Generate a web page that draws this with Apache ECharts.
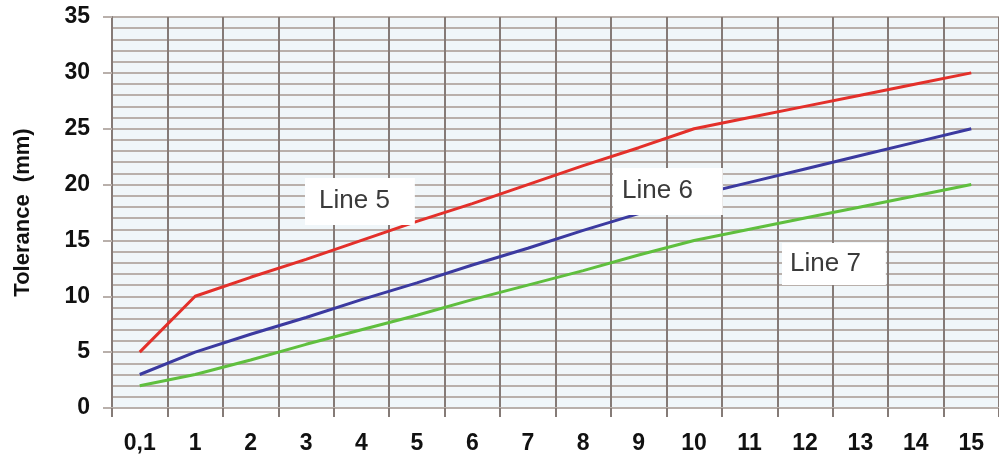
<!DOCTYPE html>
<html>
<head>
<meta charset="utf-8">
<script src="https://cdn.jsdelivr.net/npm/echarts@6/dist/echarts.min.js"></script>
<style>
html,body{margin:0;padding:0;background:#fff;}
#main{width:999px;height:465px;}
</style>
</head>
<body>
<div id="main"></div>
<script>
var categories = ['0,1','1','2','3','4','5','6','7','8','9','10','11','12','13','14','15'];
var line5 = [5, 10, 11.7, 13.3, 15, 16.7, 18.3, 20, 21.7, 23.3, 25, 26, 27, 28, 29, 30];
var line6 = [3, 5, 6.6, 8.1, 9.7, 11.2, 12.8, 14.3, 15.9, 17.4, 19, 20.2, 21.4, 22.6, 23.8, 25];
var line7 = [2, 3, 4.3, 5.7, 7, 8.3, 9.7, 11, 12.3, 13.7, 15, 16, 17, 18, 19, 20];
var seriesNames = ['Line 5', 'Line 6', 'Line 7'];
var yTicks = {min: 0, max: 35, interval: 5};

var chart = echarts.init(document.getElementById('main'), null, {renderer: 'canvas'});
var font = '"Liberation Sans", Arial, sans-serif';
var gridColor = '#b9b0ab';
var vColor = '#857b77';

function lineSeries(name, data, color) {
  return {
    name: name, type: 'line', data: data, symbol: 'none', smooth: false,
    lineStyle: {color: color, width: 3}, z: 3, silent: true
  };
}

function boxLabel(text, left, top, pad) {
  return {type: 'text', left: left, top: top, z: 10,
    style: {text: text, fill: '#3a3a3a', font: '26px ' + font, backgroundColor: '#ffffff', padding: pad}};
}

var option = {
  backgroundColor: '#ffffff',
  animation: false,
  textStyle: {fontFamily: font},
  grid: {
    left: 112, top: 17, bottom: 57, right: -10.6,
    show: true, backgroundColor: '#f0f6f9', borderWidth: 0, containLabel: false
  },
  xAxis: {
    type: 'category', data: categories, boundaryGap: true,
    axisLine: {show: true, lineStyle: {color: gridColor, width: 2}},
    axisTick: {show: true, length: 9, interval: 0, lineStyle: {color: vColor, width: 2}},
    splitLine: {show: true, interval: 0, lineStyle: {color: vColor, width: 2}},
    axisLabel: {
      interval: 0, margin: 24, color: '#111', fontSize: 23, fontWeight: 'bold', fontFamily: font
    }
  },
  yAxis: {
    type: 'value', min: yTicks.min, max: yTicks.max, interval: yTicks.interval,
    name: 'Tolerance  (mm)', nameLocation: 'middle', nameGap: 78, nameRotate: 90,
    nameTextStyle: {fontSize: 22, fontWeight: 'bold', color: '#111', fontFamily: font},
    axisLine: {show: true, lineStyle: {color: vColor, width: 2}},
    axisTick: {show: true, length: 9, lineStyle: {color: gridColor, width: 2}},
    axisLabel: {margin: 22, color: '#111', fontSize: 23, fontWeight: 'bold', fontFamily: font},
    splitLine: {show: true, lineStyle: {color: gridColor, width: 2}},
    minorTick: {show: false, splitNumber: 5},
    minorSplitLine: {show: true, lineStyle: {color: gridColor, width: 2}}
  },
  series: [
    lineSeries(seriesNames[0], line5, '#e3302a'),
    lineSeries(seriesNames[1], line6, '#3b3aa0'),
    lineSeries(seriesNames[2], line7, '#5fbf3e')
  ],
  graphic: [
    boxLabel(seriesNames[0], 305, 178, [10, 25, 11, 14]),
    boxLabel(seriesNames[1], 613, 168, [10, 30, 11, 9]),
    boxLabel(seriesNames[2], 782, 243, [8, 25, 8, 8])
  ]
};
chart.setOption(option);
</script>
</body>
</html>
